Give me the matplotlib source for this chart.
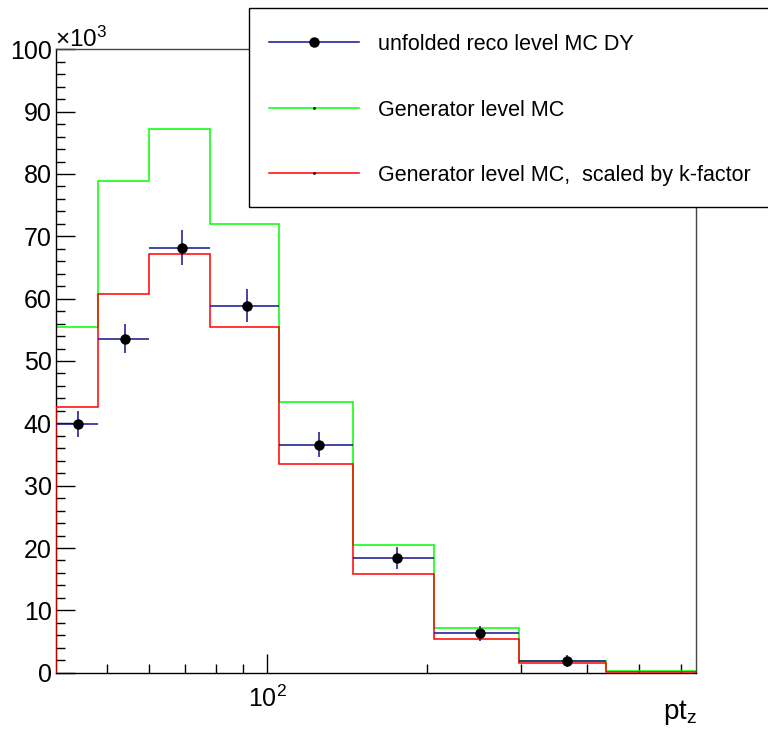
import matplotlib
matplotlib.use("Agg")
import matplotlib.pyplot as plt
from matplotlib.ticker import FixedLocator, FuncFormatter, NullFormatter
from matplotlib.patches import Rectangle
from matplotlib.lines import Line2D
import numpy as np

# ---------------- data ----------------
bin_edges = [40, 48, 60, 78, 105, 145, 206, 297, 434, 640]
gen_level = [55450, 78900, 87200, 72000, 43400, 20500, 7100, 1900, 320]
gen_kfactor = [42700, 60700, 67100, 55450, 33500, 15800, 5450, 1500, 170]
unfolded = [39900, 53600, 68200, 58900, 36600, 18350, 6300, 1900]
unfolded_err = [2100, 2300, 2750, 2650, 2060, 1760, 1200, 930]
y_ticks = [0, 10000, 20000, 30000, 40000, 50000, 60000, 70000, 80000, 90000, 100000]
x_major = [100]
x_minor = [50, 60, 70, 80, 90, 200, 300, 400, 500, 600]
legend_labels = ["unfolded reco level MC DY", "Generator level MC",
                 "Generator level MC,  scaled by k-factor"]

plt.rcParams['font.family'] = ['Liberation Sans', 'DejaVu Sans']
plt.rcParams['mathtext.fontset'] = 'custom'
plt.rcParams['mathtext.rm'] = 'Liberation Sans'
plt.rcParams['mathtext.it'] = 'Liberation Sans:italic'

W, H = 768, 736
fig = plt.figure(figsize=(W / 100, H / 100), dpi=100)
L, R, T, B = 55.7, 696, 49.3, 672.7
ax = fig.add_axes([L / W, 1 - B / H, (R - L) / W, (B - T) / H])

NAVY = '#14148c'
GREEN = '#00ff00'
RED = '#ff0000'

ax.stairs(gen_level, bin_edges, baseline=0, color=GREEN, linewidth=1.1, zorder=2)
ax.stairs(gen_kfactor, bin_edges, baseline=0, color=RED, linewidth=1.1, zorder=3)

edges = np.array(bin_edges, dtype=float)
centers = 0.5 * (edges[:-1] + edges[1:])[:len(unfolded)]
xlo = centers - edges[:len(unfolded)]
xhi = edges[1:len(unfolded) + 1] - centers
ax.errorbar(centers, unfolded, yerr=unfolded_err, xerr=[xlo, xhi], fmt='o',
            color=NAVY, ecolor=NAVY, elinewidth=1.1, capsize=0,
            markerfacecolor='black', markeredgecolor='black', markersize=6.5,
            zorder=4)

ax.set_xscale('log')
ax.set_xlim(bin_edges[0], bin_edges[-1])
ax.set_ylim(0, 100000)

ax.xaxis.set_major_locator(FixedLocator(x_major))
ax.xaxis.set_minor_locator(FixedLocator(x_minor))
ax.xaxis.set_major_formatter(FuncFormatter(lambda v, p: r'$\mathregular{10^{%d}}$' % int(round(np.log10(v)))))
ax.xaxis.set_minor_formatter(NullFormatter())

ax.yaxis.set_major_locator(FixedLocator(y_ticks))
ax.yaxis.set_minor_locator(FixedLocator(np.arange(0, 100001, 2000)))
ax.yaxis.set_major_formatter(FuncFormatter(lambda v, p: '%d' % int(round(v / 1000))))

ax.tick_params(axis='both', which='both', direction='in', top=False, right=False,
               color='black', width=1.0)
ax.tick_params(axis='y', which='major', length=13.5, labelsize=18, pad=3)
ax.tick_params(axis='y', which='minor', length=6.7)
ax.tick_params(axis='x', which='major', length=13.5, labelsize=18, pad=9)
ax.tick_params(axis='x', which='minor', length=6.3)

for s in ax.spines.values():
    s.set_linewidth(1.0)
    s.set_color('black')
ax.spines['top'].set_color('#444444')
ax.spines['right'].set_color('#444444')

# x10^3 label
fig.text(55 / W, 1 - 46.5 / H, r'$\mathregular{\times10^{3}}$', fontsize=17.5,
         ha='left', va='baseline')

# x axis title
fig.text(697 / W, 1 - 719 / H, r'pt$\mathregular{_{z}}$', fontsize=20,
         ha='right', va='baseline')

# legend (manual, in figure coordinates)
lx0, ly0, lx1, ly1 = 249, 8.3, 800, 206.7
rect = Rectangle((lx0 / W, 1 - ly1 / H), (lx1 - lx0) / W, (ly1 - ly0) / H,
                 transform=fig.transFigure, facecolor='white', edgecolor='black',
                 linewidth=1.0, zorder=10, clip_on=False)
fig.add_artist(rect)
entry_y = [42, 107.7, 173]
entry_colors = [NAVY, GREEN, RED]
for i, (yy, c, lab) in enumerate(zip(entry_y, entry_colors, legend_labels)):
    yf = 1 - yy / H
    ln = Line2D([269 / W, 359 / W], [yf, yf], transform=fig.transFigure,
                color=c, linewidth=1.1, zorder=11)
    fig.add_artist(ln)
    ms = 6.5 if i == 0 else 1.0
    mk = Line2D([314 / W], [yf], transform=fig.transFigure, marker='o',
                markersize=ms, color='black', linestyle='none', zorder=12)
    fig.add_artist(mk)
    fig.text(378 / W, yf, lab, fontsize=15.5, ha='left', va='center_baseline',
             zorder=12)

fig.savefig('out.png', dpi=100)
